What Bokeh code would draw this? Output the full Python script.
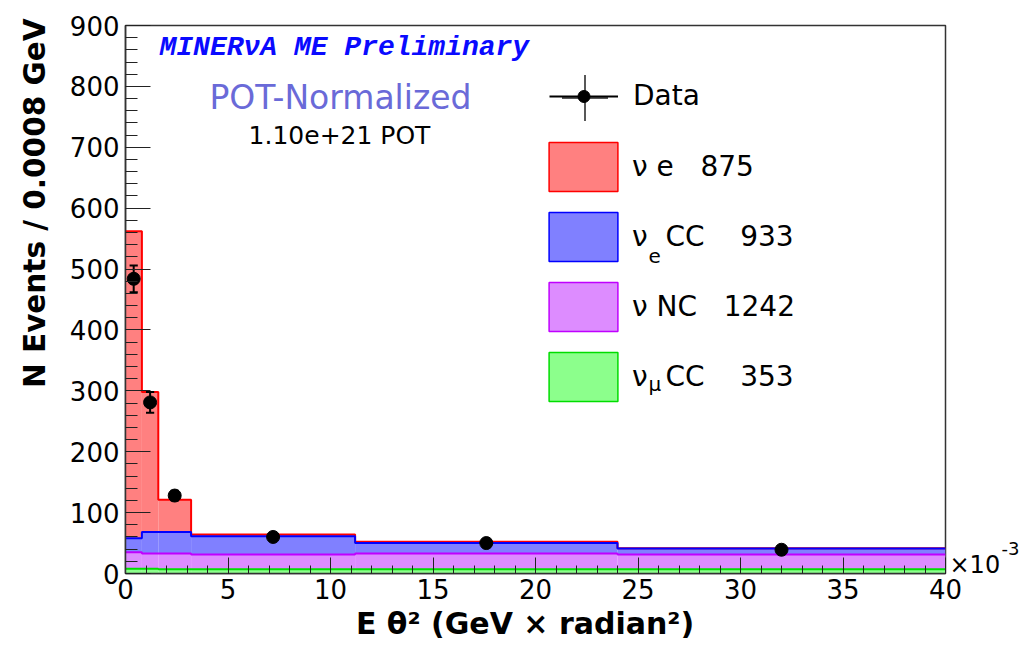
import numpy as np
from bokeh.plotting import figure
from bokeh.models import (Range1d, SingleIntervalTicker, CustomJSTickFormatter,
                          Label, Legend, LegendItem, Title)
from bokeh.embed import file_html
from bokeh.resources import INLINE

# Bin edges in GeV x radian^2
bin_edges = [0.0, 0.0008, 0.0016, 0.0032, 0.0112, 0.024, 0.04]

# Simulated samples, events per 0.0008 GeV (stacked bottom -> top)
numu_cc = [8, 8, 7, 7, 7, 7]
nu_nc = [27, 25, 26, 24, 26, 24]
nue_cc = [23, 35, 35, 30, 17, 10]
nu_e = [504, 230, 53, 3, 2, 0.5]

# Data points and their statistical errors
data_y = [484, 281, 128, 60, 50, 39]
data_err = [22, 17, 8, 2.4, 1.8, 1.4]

# Legend text and sample totals
sample_labels = ["ν e", "ν  CC", "ν NC", "ν  CC"]
sample_totals = [875, 933, 1242, 353]

edges = np.array(bin_edges)
left, right = edges[:-1], edges[1:]
centers = 0.5 * (left + right)

p = figure(width=1027, height=652, x_range=Range1d(0, 0.04), y_range=Range1d(0, 900),
           output_backend="svg", toolbar_location=None,
           min_border_left=124, min_border_right=82, min_border_top=25, min_border_bottom=79)
p.xgrid.visible = False
p.ygrid.visible = False
p.background_fill_color = "white"
p.border_fill_color = "white"
p.outline_line_color = "#333333"
p.outline_line_width = 1.5

# Stack: green (numu CC), violet (NC), blue (nue CC), red (nu e)
layers = [
    ("numu", numu_cc, "#8cff8c", "#00dd00"),
    ("nc", nu_nc, "#dd8cff", "#c000ff"),
    ("nuecc", nue_cc, "#8080ff", "#0000ff"),
    ("nue", nu_e, "#ff8080", "#ff0000"),
]
base = np.zeros(len(left))
tops = {}
swatches = {}
for name, vals, fill, line in layers:
    top = base + np.array(vals, dtype=float)
    p.quad(left=left, right=right, bottom=base, top=top,
           fill_color=fill, line_alpha=0)
    sw = p.quad(left=left, right=right, bottom=base, top=top,
                fill_color=fill, line_color=line, line_width=1.5)
    sw.visible = False
    swatches[name] = sw
    tops[name] = (top, line)
    base = top

# Outline steps, drawn from the full stack downwards
for name in ["nue", "nuecc", "nc", "numu"]:
    top, line = tops[name]
    p.step(x=edges, y=np.append(top, top[-1]), mode="after",
           line_color=line, line_width=2)

# Data with error bars
dy = np.array(data_y, dtype=float)
de = np.array(data_err, dtype=float)
cap = 0.0002
stems = p.segment(x0=centers, y0=dy - de, x1=centers, y1=dy + de,
                  line_color="black", line_width=2)
p.segment(x0=centers - cap, y0=dy + de, x1=centers + cap, y1=dy + de,
          line_color="black", line_width=2)
p.segment(x0=centers - cap, y0=dy - de, x1=centers + cap, y1=dy - de,
          line_color="black", line_width=2)
dots = p.scatter(x=centers, y=dy, size=13, marker="circle", color="black")
# cross shown only in the legend key of the data entry
cross_key = p.scatter(x=centers, y=dy, marker="cross", line_color="#222222",
                      line_width=1.5)
cross_key.visible = False

# Axes
font = "DejaVu Sans"
xa = p.xaxis[0]
xa.ticker = SingleIntervalTicker(interval=0.005, num_minor_ticks=5)
xa.formatter = CustomJSTickFormatter(code="return (tick * 1000).toFixed(0);")
ya = p.yaxis[0]
ya.ticker = SingleIntervalTicker(interval=100, num_minor_ticks=5)
for ax, major, minor, standoff in [(xa, 16, 8, 5), (ya, 25, 12, 6)]:
    ax.major_tick_in = major
    ax.major_tick_out = 0
    ax.minor_tick_in = minor
    ax.minor_tick_out = 0
    ax.major_tick_line_color = "#222222"
    ax.minor_tick_line_color = "#222222"
    ax.axis_line_color = "#333333"
    ax.axis_line_width = 1.5
    ax.major_label_text_font = font
    ax.major_label_text_font_size = "26px"
    ax.major_label_text_color = "black"
    ax.major_label_standoff = standoff

xa.axis_label = "E  θ² (GeV  × radian²)"
xa.axis_label_text_font = font
xa.axis_label_text_font_style = "bold"
xa.axis_label_text_font_size = "30px"
xa.axis_label_text_color = "black"
xa.axis_label_standoff = 4

# Y axis title, pushed to the top end of the axis
ytitle = Title(text="N Events / 0.0008 GeV", align="right", text_font=font,
               text_font_style="bold", text_font_size="29.5px", text_color="black",
               standoff=30, offset=-7)
p.add_layout(ytitle, "left")

# Axis multiplier to the right of the frame: mantissa and raised exponent
p.add_layout(Label(x=4, y=9, x_units="screen", y_units="screen", text="×10",
                   text_font=font, text_font_size="24px", text_color="black",
                   text_baseline="alphabetic"), "right")
p.add_layout(Label(x=5, y=25, x_units="screen", y_units="screen", text="-3",
                   text_font=font, text_font_size="18px", text_color="black",
                   text_baseline="alphabetic"), "right")


def screen_text(text, x, y, size, color="black", align="left", style="normal",
                fnt=font):
    p.add_layout(Label(x=x, y=y, x_units="screen", y_units="screen", text=text,
                       text_font=fnt, text_font_size=size, text_color=color,
                       text_align=align, text_baseline="alphabetic",
                       text_font_style=style))


# Header texts
screen_text("MINERνA ME Preliminary", 34, 526, "28px", color="#0a0aff",
            style="bold italic", fnt="Liberation Mono")
screen_text("POT-Normalized", 215, 476, "33px", color="#6a6ad8", align="center")
screen_text("1.10e+21 POT", 214, 438, "25px", align="center")

# Legends
nb = "\u00a0"
data_legend = Legend(items=[LegendItem(label="Data", renderers=[stems, dots])],
                     location=(424, 461))
cross_legend = Legend(items=[LegendItem(label="", renderers=[cross_key])],
                      location=(401.5, 418.5))
order = ["nue", "nuecc", "nc", "numu"]
gaps = [3, 4, 3, 4]
stack_items = []
for name, lab, tot, g in zip(order, sample_labels, sample_totals, gaps):
    text = lab.replace(" ", nb) + nb * g + str(tot)
    stack_items.append(LegendItem(label=text, renderers=[swatches[name]]))
stack_legend = Legend(items=stack_items, location=(415, 166))

for leg, gw, gh, sp, so in [(cross_legend, 115, 115, 0, 0),
                            (data_legend, 69, 30, 21, 15),
                            (stack_legend, 86, 61, 9, 6)]:
    leg.glyph_width = gw
    leg.glyph_height = gh
    leg.label_height = gh
    leg.label_width = 0
    leg.spacing = sp
    leg.padding = 0
    leg.margin = 0
    leg.label_standoff = so
    leg.label_text_font = font
    leg.label_text_font_size = "28px"
    leg.label_text_color = "black"
    leg.border_line_alpha = 0
    leg.background_fill_alpha = 0
    leg.inactive_fill_alpha = 0
    p.add_layout(leg)

# Subscripts in the legend labels
screen_text("e", 523, 318, "20px")
screen_text("μ", 523, 190, "20px")

open("out.html", "w").write(file_html(p, INLINE))
